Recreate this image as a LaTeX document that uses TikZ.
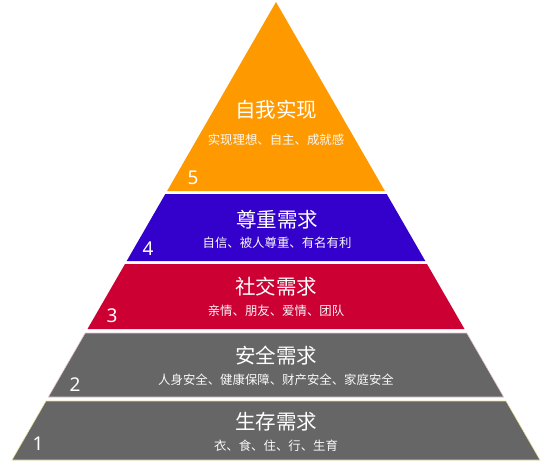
\documentclass[tikz,border=0pt]{standalone}
\usepackage{fontspec}
\setmainfont{Noto Sans}
\newfontfamily\cjk{Noto Sans CJK SC}
\definecolor{lvA}{HTML}{FF9900}
\definecolor{lvB}{HTML}{3300CC}
\definecolor{lvC}{HTML}{CC0033}
\definecolor{lvD}{HTML}{666666}
\definecolor{edgeD}{HTML}{E6C9D2}
\definecolor{edgeE}{HTML}{E8DFA0}
\tikzset{
  title/.style={text=white, font=\cjk\fontsize{20.5}{22}\selectfont, inner sep=0pt},
  sub/.style={text=white!95!gray, font=\cjk\fontsize{12.4}{14}\selectfont, inner sep=0pt},
  num/.style={text=white, font=\fontsize{19}{21}\selectfont, inner sep=0pt},
}
\begin{document}
\begin{tikzpicture}[x=1pt,y=-1pt]
\useasboundingbox (0,0) rectangle (554,464);
% layers
\fill[lvA] (276,2) -- (384.9,191) -- (167.1,191) -- cycle;
\fill[lvB] (165.3,194) -- (386.7,194) -- (425.3,261) -- (126.7,261) -- cycle;
\fill[lvC] (125.0,264) -- (427.0,264) -- (464.5,329) -- (87.5,329) -- cycle;
\filldraw[fill=lvD, draw=edgeD, line width=0.6pt] (85.2,333) -- (466.8,333) -- (503.7,397) -- (48.3,397) -- cycle;
\filldraw[fill=lvD, draw=edgeE, line width=0.6pt] (46.0,401) -- (506.0,401) -- (540,460) -- (12,460) -- cycle;
% texts
\node[title] (t5) at (276,110) {自我实现};
\node[sub]   (s5) at (276,140) {实现理想、自主、成就感};
\node[num]   (n5) at (193,178) {5};
\node[title] (t4) at (277,220) {尊重需求};
\node[sub]   (s4) at (277,243) {自信、被人尊重、有名有利};
\node[num]   (n4) at (148,249) {4};
\node[title] (t3) at (276,287) {社交需求};
\node[sub]   (s3) at (276,311) {亲情、朋友、爱情、团队};
\node[num]   (n3) at (112,316) {3};
\node[title] (t2) at (276,356) {安全需求};
\node[sub]   (s2) at (276,380) {人身安全、健康保障、财产安全、家庭安全};
\node[num]   (n2) at (75,385) {2};
\node[title] (t1) at (276,422) {生存需求};
\node[sub]   (s1) at (276,446) {衣、食、住、行、生育};
\node[num]   (n1) at (38,444) {1};
\end{tikzpicture}
\end{document}
